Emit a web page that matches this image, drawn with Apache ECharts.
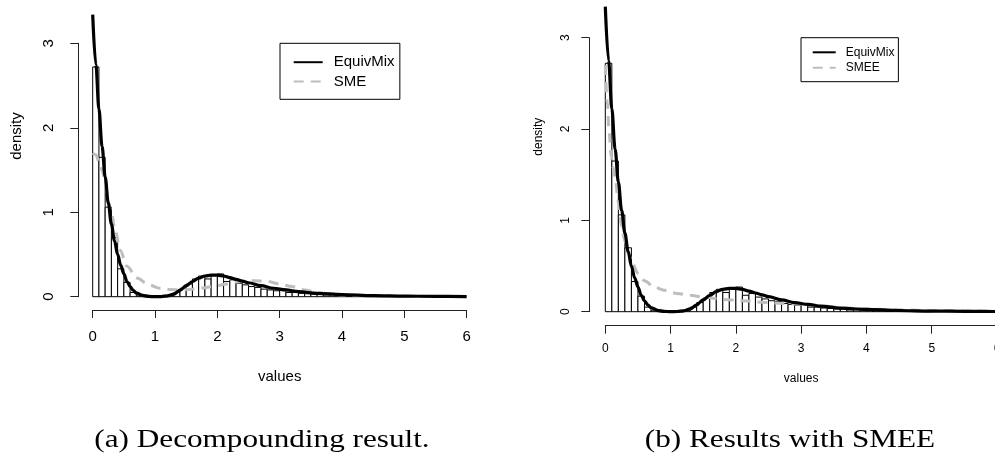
<!DOCTYPE html>
<html>
<head>
<meta charset="utf-8">
<script src="https://cdn.jsdelivr.net/npm/echarts@6/dist/echarts.min.js"></script>
<style>
  html, body { margin: 0; padding: 0; background: #fff; }
  #main { width: 995px; height: 463px; }
</style>
</head>
<body>
<div id="main"></div>
<script>
// Histogram of the observed values (density scale, bins of width 0.1 starting at 0)
const binWidth = 0.1;
const histDensity = [
  2.72, 1.65, 1.06, 0.70, 0.33, 0.17, 0.05, 0.01, 0.0, 0.0,
  0.0, 0.0, 0.01, 0.05, 0.10, 0.15, 0.21, 0.245, 0.21, 0.25,
  0.27, 0.18, 0.20, 0.16, 0.14, 0.12, 0.11, 0.09, 0.08, 0.07,
  0.09, 0.05, 0.05, 0.04, 0.035, 0.03, 0.03, 0.02, 0.02, 0.015,
  0.012, 0.01, 0.01, 0.008, 0.006, 0.005, 0.004, 0.004, 0.003, 0.003
];

// EquivMix density estimate
const equivX = [0, 0.05, 0.1, 0.15, 0.2, 0.25, 0.3, 0.35, 0.4, 0.45, 0.5, 0.55, 0.6, 0.65, 0.7, 0.8, 0.9, 1.0, 1.1, 1.2,
  1.3, 1.4, 1.5, 1.6, 1.7, 1.8, 1.9, 2.0, 2.1, 2.2, 2.3, 2.4, 2.5, 2.7, 2.9, 3.1, 3.3, 3.6, 4.0, 4.5, 5.0, 5.5, 6.0];
const equivY = [3.34, 2.75, 2.22, 1.78, 1.42, 1.11, 0.86, 0.66, 0.50, 0.37, 0.27, 0.18, 0.12, 0.075, 0.045, 0.015, 0.004, 0.0, 0.002, 0.01,
  0.03, 0.075, 0.13, 0.18, 0.22, 0.245, 0.255, 0.255, 0.245, 0.225, 0.205, 0.185, 0.165, 0.13, 0.10, 0.08, 0.06, 0.04, 0.025, 0.013, 0.007, 0.004, 0.002];

// SME density estimate (panel a)
const smeX = [0, 0.05, 0.1, 0.15, 0.2, 0.25, 0.3, 0.36, 0.44, 0.55, 0.71, 0.9, 1.08, 1.25, 1.4, 1.55, 1.7, 1.94, 2.15, 2.36,
  2.6, 2.8, 3.0, 3.2, 3.4, 3.6, 3.8, 4.0, 4.5, 5.0, 5.5, 6.0];
const smeY = [1.70, 1.68, 1.60, 1.50, 1.35, 1.12, 0.98, 0.79, 0.55, 0.36, 0.22, 0.14, 0.10, 0.085, 0.08, 0.085, 0.10, 0.12, 0.15, 0.18,
  0.19, 0.18, 0.15, 0.12, 0.08, 0.05, 0.035, 0.02, 0.01, 0.005, 0.003, 0.002];

// SMEE density estimate (panel b)
const smeeX = [0, 0.03, 0.06, 0.09, 0.12, 0.15, 0.2, 0.25, 0.3, 0.35, 0.42, 0.5, 0.6, 0.75, 0.9, 1.1, 1.3, 1.5, 1.8, 2.1,
  2.45, 2.75, 3.05, 3.4, 3.7, 4.0, 4.5, 5.0, 5.5, 6.0];
const smeeY = [2.70, 2.30, 1.95, 1.70, 1.58, 1.47, 1.20, 0.93, 0.77, 0.64, 0.52, 0.42, 0.34, 0.27, 0.235, 0.20, 0.18, 0.16, 0.135, 0.12,
  0.10, 0.09, 0.08, 0.06, 0.04, 0.03, 0.02, 0.012, 0.009, 0.006];

const xTicks = { min: 0, max: 6, interval: 1 };
const yTicks = { min: 0, max: 3, interval: 1 };
const captions = ['(a) Decompounding result.', '(b) Results with SMEE'];

const histData = histDensity.map((d, i) => [i * binWidth, (i + 1) * binWidth, d]);
const pairs = (xs, ys) => xs.map((x, i) => [x, ys[i]]);

const sans = 'Liberation Sans, Arial, Helvetica, sans-serif';

// Per-panel layout (R-style detached axes); the second panel runs slightly past the right edge
const panels = [
  { grid: { left: 92.7, top: 43.3, right: 528.3, bottom: 166.3 }, fs: 15, xOff: 13.3, yOff: 14.4,
    xMargin: 19.5, yMargin: 21.6, nameGap: 59.5, tick: 8 },
  { grid: { left: 605.3, top: 37.7, right: -2, bottom: 151.3 }, fs: 12, xOff: 14, yOff: 16,
    xMargin: 16.6, yMargin: 17.6, nameGap: 46.6, tick: 8 }
];

const axisLineStyle = { color: '#222', width: 1 };

const xAxes = panels.map((p, i) => ({
  gridIndex: i, type: 'value', min: xTicks.min, max: xTicks.max, interval: xTicks.interval,
  offset: p.xOff,
  axisLine: { show: true, onZero: false, lineStyle: axisLineStyle },
  axisTick: { show: true, length: p.tick, lineStyle: axisLineStyle },
  axisLabel: { margin: p.xMargin, fontSize: p.fs, color: '#000', fontFamily: sans },
  splitLine: { show: false },
  name: 'values', nameLocation: 'middle', nameGap: p.nameGap,
  nameTextStyle: { fontSize: p.fs, color: '#000', fontFamily: sans }
}));

const yAxes = panels.map((p, i) => ({
  gridIndex: i, type: 'value', min: yTicks.min, max: yTicks.max, interval: yTicks.interval,
  offset: p.yOff,
  axisLine: { show: true, onZero: false, lineStyle: axisLineStyle },
  axisTick: { show: true, length: p.tick, lineStyle: axisLineStyle },
  axisLabel: { rotate: 90, margin: p.yMargin, fontSize: p.fs, color: '#000', fontFamily: sans },
  splitLine: { show: false }
}));

function histSeries(idx) {
  return {
    type: 'custom', xAxisIndex: idx, yAxisIndex: idx, data: histData, z: 1, clip: false,
    encode: { x: [0, 1], y: 2 },
    renderItem(params, api) {
      const top = api.coord([api.value(0), api.value(2)]);
      const bot = api.coord([api.value(1), 0]);
      return {
        type: 'rect',
        shape: { x: top[0], y: top[1], width: bot[0] - top[0], height: bot[1] - top[1] },
        style: { fill: '#fff', stroke: '#000', lineWidth: 1 }
      };
    }
  };
}

function solidSeries(idx, name, data) {
  return {
    type: 'line', name, xAxisIndex: idx, yAxisIndex: idx, data, z: 3, clip: false,
    symbol: 'none', smooth: 0.35, smoothMonotone: 'x',
    lineStyle: { color: '#000', width: 3.2 }, itemStyle: { color: '#000', opacity: 0 }
  };
}

function dashedSeries(idx, name, data) {
  return {
    type: 'line', name, xAxisIndex: idx, yAxisIndex: idx, data, z: 2, clip: false,
    symbol: 'none', smooth: 0.35, smoothMonotone: 'x',
    lineStyle: { color: '#bebebe', width: 3, type: [10, 7] }, itemStyle: { color: '#bebebe', opacity: 0 }
  };
}

// Line-only legend keys inside a plain black frame
const legendBase = {
  orient: 'vertical', selectedMode: false, backgroundColor: '#fff',
  borderColor: '#000', borderWidth: 1, borderRadius: 0,
  itemStyle: { opacity: 0 }
};

const option = {
  backgroundColor: '#fff',
  animation: false,
  grid: panels.map(p => Object.assign({ containLabel: false, outerBoundsMode: 'none' }, p.grid)),
  xAxis: xAxes,
  yAxis: yAxes,
  legend: [
    Object.assign({}, legendBase, {
      data: ['EquivMix', 'SME'], left: 280, top: 43.3,
      itemWidth: 29, itemHeight: 14, itemGap: 4.3, padding: [11.4, 5.3, 10.3, 12.7],
      textStyle: { fontSize: 15, fontFamily: sans, color: '#000', lineHeight: 14, padding: [0, 0, 0, 6] }
    }),
    Object.assign({}, legendBase, {
      data: ['EquivMix', 'SMEE'], left: 801, top: 37.7,
      itemWidth: 23, itemHeight: 12, itemGap: 3.4, padding: [8.6, 4, 8, 10.7],
      textStyle: { fontSize: 12, fontFamily: sans, color: '#000', lineHeight: 12, padding: [0, 0, 0, 5] }
    })
  ],
  graphic: [
    { type: 'text', x: 16.7, y: 136, rotation: Math.PI / 2,
      style: { text: 'density', fontSize: 15, fontFamily: sans, fill: '#000', align: 'center', verticalAlign: 'middle' } },
    { type: 'text', x: 538.3, y: 136.7, rotation: Math.PI / 2,
      style: { text: 'density', fontSize: 12, fontFamily: sans, fill: '#000', align: 'center', verticalAlign: 'middle' } },
    { type: 'text', x: 262, y: 440, scaleX: 1.2,
      style: { text: captions[0], fontSize: 26, fontFamily: 'Liberation Serif, serif', fill: '#000', align: 'center', verticalAlign: 'middle' } },
    { type: 'text', x: 790, y: 440, scaleX: 1.2,
      style: { text: captions[1], fontSize: 26, fontFamily: 'Liberation Serif, serif', fill: '#000', align: 'center', verticalAlign: 'middle' } }
  ],
  series: [
    histSeries(0),
    dashedSeries(0, 'SME', pairs(smeX, smeY)),
    solidSeries(0, 'EquivMix', pairs(equivX, equivY)),
    histSeries(1),
    dashedSeries(1, 'SMEE', pairs(smeeX, smeeY)),
    solidSeries(1, 'EquivMix', pairs(equivX, equivY))
  ]
};

const chart = echarts.init(document.getElementById('main'), null, { renderer: 'canvas' });
chart.setOption(option);
</script>
</body>
</html>
